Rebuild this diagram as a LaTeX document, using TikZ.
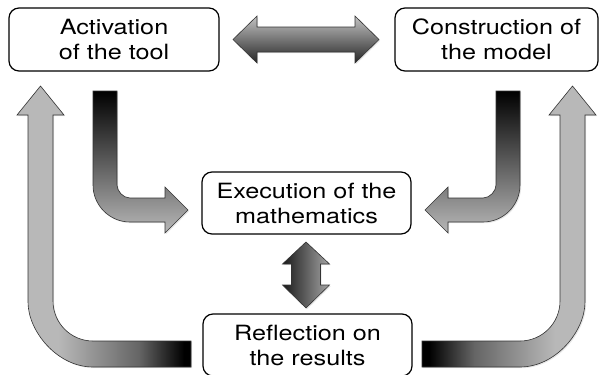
\documentclass[tikz,border=0pt]{standalone}
\usepackage{fontspec}
\setmainfont{TeX Gyre Heros}
\newfontfamily\boxfont[FakeStretch=1.2]{TeX Gyre Heros}
\usetikzlibrary{shadows}
\definecolor{lg}{gray}{0.72}
\definecolor{outl}{gray}{0.2}
\pgfdeclarehorizontalshading{bigLshade}{100bp}{color(0bp)=(lg); color(37bp)=(lg); color(60bp)=(lg!55!black); color(73bp)=(black); color(100bp)=(black)}
\pgfdeclarehorizontalshading{bigRshade}{100bp}{color(0bp)=(black); color(27bp)=(black); color(40bp)=(lg!55!black); color(63bp)=(lg); color(100bp)=(lg)}
\tikzset{
  box/.style={draw=black, line width=1.2pt, rounded corners=10pt, fill=white, inner sep=0pt, align=center, font=\boxfont\fontsize{21}{25}\selectfont},
  fat/.style={draw=outl, line width=0.6pt, drop shadow={shadow xshift=1.2pt, shadow yshift=-1.2pt, opacity=0.2}},
}
\begin{document}
\begin{tikzpicture}[x=1pt, y=-1pt]
\useasboundingbox (0,0) rectangle (600,375);
% boxes
\node[box, minimum width=210pt, minimum height=63pt] (act) at (114,39.5) {Activation\\of the tool};
\node[box, minimum width=203pt, minimum height=63pt] (con) at (496.5,39.5) {Construction of\\the model};
\node[box, minimum width=209pt, minimum height=62pt] (exe) at (306.5,203) {Execution of the\\mathematics};
\node[box, minimum width=209pt, minimum height=62pt] (ref) at (307.5,345) {Reflection on\\the results};
% horizontal double arrow
\path[fat, top color=lg!85!white, bottom color=black!85] (233,39.5) -- (257,16) -- (257,27) -- (355,27) -- (355,16) -- (379,39.5) -- (355,63) -- (355,52) -- (257,52) -- (257,63) -- cycle;
% vertical double arrow
\path[fat, left color=black!90, right color=lg!90!black] (306,242) -- (329.5,264) -- (320.5,264) -- (320.5,285) -- (329.5,285) -- (306,308) -- (282.5,285) -- (291.5,285) -- (291.5,264) -- (282.5,264) -- cycle;
% left small arrow
\path[fat, top color=black, bottom color=lg] (93,91) -- (93,185) .. controls (93,205.4) and (109.6,222) .. (130,222) -- (165,222) -- (165,233) -- (188,210) -- (165,187) -- (165,198) -- (130,198) .. controls (122.8,198) and (117,190.8) .. (117,185) -- (117,91) -- cycle;
% right small arrow
\path[fat, top color=black, bottom color=lg] (520,91) -- (520,185) .. controls (520,205.4) and (503.4,222) .. (483,222) -- (448,222) -- (448,233) -- (425,210) -- (448,187) -- (448,198) -- (483,198) .. controls (490.2,198) and (496,190.8) .. (496,185) -- (496,91) -- cycle;
% big left arrow
\path[fat, shading=bigLshade] (191,367) -- (93,367) .. controls (57.1,367) and (28,331.1) .. (28,302) -- (28,115) -- (17,115) -- (40.5,86) -- (64,115) -- (53,115) -- (53,301) .. controls (53,323.1) and (70.9,341) .. (93,341) -- (191,341) -- cycle;
% big right arrow
\path[fat, shading=bigRshade] (422,367) -- (520,367) .. controls (555.9,367) and (585,331.1) .. (585,302) -- (585,115) -- (596,115) -- (572.5,86) -- (549,115) -- (560,115) -- (560,301) .. controls (560,323.1) and (542.1,341) .. (520,341) -- (422,341) -- cycle;
\end{tikzpicture}
\end{document}
